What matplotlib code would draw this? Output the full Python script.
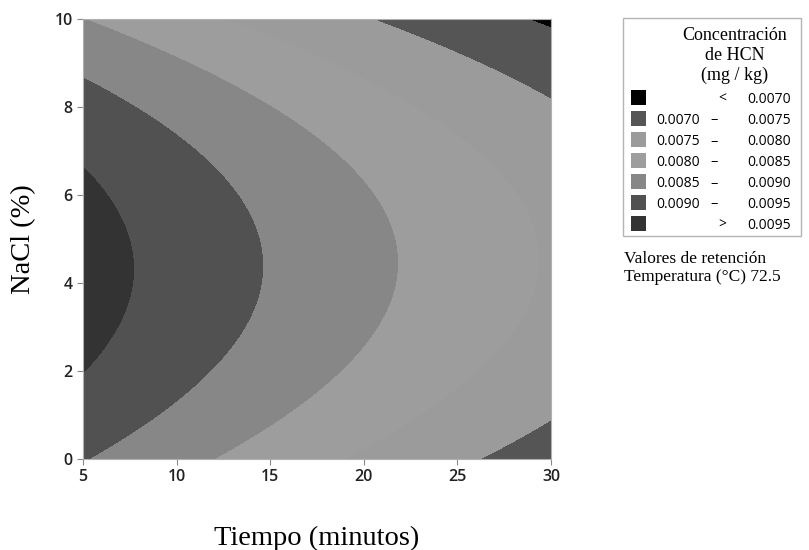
import numpy as np
import matplotlib.pyplot as plt
from matplotlib.patches import Rectangle

# rangos de los factores
tiempo_lim = [5, 30]
nacl_lim = [0, 10]
xticks = [5, 10, 15, 20, 25, 30]
yticks = [0, 2, 4, 6, 8, 10]

# niveles de concentracion de HCN (mg/kg) y sus colores
niveles = [0.0, 0.0070, 0.0075, 0.0080, 0.0085, 0.0090, 0.0095, 1.0]
colores = ['#020202', '#555555', '#9b9b9b', '#9d9d9d', '#878787', '#515151', '#333333']
etq_izq = ['', '0.0070', '0.0075', '0.0080', '0.0085', '0.0090', '']
etq_sep = ['<', '–', '–', '–', '–', '–', '>']
etq_der = ['0.0070', '0.0075', '0.0080', '0.0085', '0.0090', '0.0095', '0.0095']

# superficie de respuesta con temperatura fija en 72.5 C
# cresta h(t) = a + b t + c t^2, curvatura k(t) = k0 + k1 t, centro s0(t) = s0 + s1 t
coef_cresta = [0.010082, -7.723e-5, 2.14e-7]
coef_curv = [3.72e-5, -0.9e-7]
coef_centro = [4.25, 0.0095]

t = np.linspace(tiempo_lim[0], tiempo_lim[1], 400)
s = np.linspace(nacl_lim[0], nacl_lim[1], 400)
T, S = np.meshgrid(t, s)
cresta = coef_cresta[0] + coef_cresta[1] * T + coef_cresta[2] * T**2
curv = coef_curv[0] + coef_curv[1] * T
centro = coef_centro[0] + coef_centro[1] * T
Z = cresta - curv * (S - centro)**2

fig = plt.figure(figsize=(8.09, 5.5), dpi=100)
ax = fig.add_axes([0.1026, 0.1655, 0.5785, 0.7995])
ax.contourf(T, S, Z, levels=niveles, colors=colores, antialiased=True)
ax.contourf(T, S, Z, levels=niveles, colors=colores)

ax.set_xlim(tiempo_lim)
ax.set_ylim(nacl_lim)
ax.set_xticks(xticks)
ax.set_yticks(yticks)
for sp in ax.spines.values():
    sp.set_color('#b0b0b0')
ax.tick_params(colors='#888888', labelcolor='#222222', length=4, width=0.8,
               labelsize=11.5)
for lb in ax.get_xticklabels() + ax.get_yticklabels():
    lb.set_fontfamily('Open Sans')
    lb.set_fontweight('semibold')

ax.set_xlabel('Tiempo (minutos)', family='Liberation Serif', fontsize=20.5, labelpad=29)
ax.set_ylabel('NaCl (%)', family='Liberation Serif', fontsize=20.5, labelpad=13)

# leyenda dibujada a mano en coordenadas de figura
W, H = 809.0, 550.0
def fx(px):
    return px / W
def fy(py):
    return 1 - py / H

fig.patches.append(Rectangle((fx(623), fy(236)), (801 - 623) / W, (236 - 18) / H,
                             transform=fig.transFigure, fill=False,
                             edgecolor='#b5b5b5', lw=1))
titulo = ['Concentración', 'de HCN', '(mg / kg)']
for i, linea in enumerate(titulo):
    fig.text(fx(735), fy(35 + 20 * i), linea, ha='center', va='center',
             family='Liberation Serif', fontsize=13)

for i in range(len(colores)):
    py = 98 + 21 * i
    fig.patches.append(Rectangle((fx(631), fy(py + 7)), 15 / W, 15 / H,
                                 transform=fig.transFigure, facecolor=colores[i],
                                 edgecolor='none'))
    base = fy(py + 5)
    fig.text(fx(700), base, etq_izq[i], ha='right', va='baseline',
             family='Open Sans', fontsize=10)
    if etq_sep[i] == '–':
        fig.text(fx(714), fy(py + 1), etq_sep[i], ha='center', va='center',
                 family='Open Sans', fontsize=10.5)
    else:
        fig.text(fx(722), base, etq_sep[i], ha='center', va='baseline',
                 family='Open Sans', fontsize=10)
    fig.text(fx(791), base, etq_der[i], ha='right', va='baseline',
             family='Open Sans', fontsize=10)

fig.text(fx(624), fy(259), 'Valores de retención', ha='left', va='center',
         family='Liberation Serif', fontsize=12.5)
fig.text(fx(624), fy(277), 'Temperatura (°C) 72.5', ha='left', va='center',
         family='Liberation Serif', fontsize=12.5)

fig.savefig('out.png', dpi=100)
